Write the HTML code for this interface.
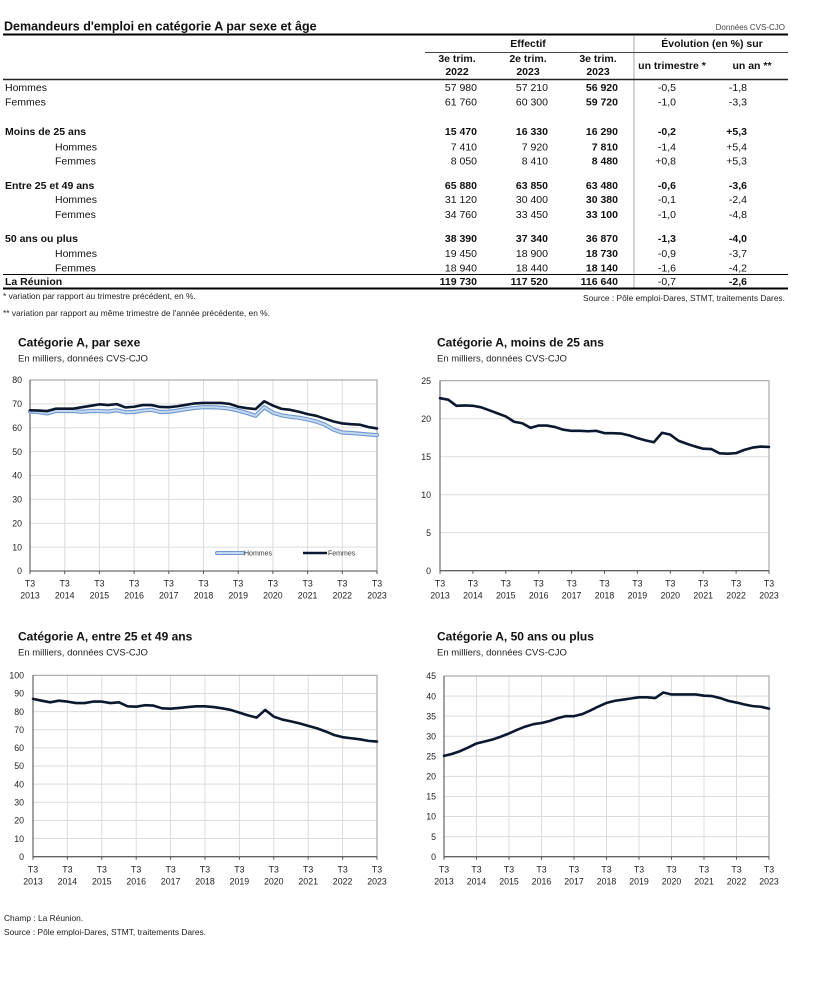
<!DOCTYPE html>
<html><head><meta charset="utf-8"><style>
html,body{margin:0;padding:0;background:#fff;}
svg{display:block;}
text{font-family:"Liberation Sans",Arial,sans-serif;}
.t{font-size:10.5px;fill:#111;}
.b{font-weight:bold;}
.r{text-anchor:end;}
.m{text-anchor:middle;}
.ax{font-size:8.8px;fill:#222;}
.ct{font-size:12px;font-weight:bold;fill:#111;}
.cs{font-size:9.5px;fill:#222;}
.fn{font-size:8.4px;fill:#222;}
.g line{stroke:#dcdcdc;stroke-width:1;vector-effect:non-scaling-stroke;}
.ln{fill:none;stroke-linejoin:round;stroke-linecap:round;vector-effect:non-scaling-stroke;}
</style></head><body>
<svg width="815" height="1000" viewBox="0 0 815 1000" xmlns="http://www.w3.org/2000/svg">
<!-- TABLE -->
<text x="4" y="30.5" font-size="12.5" font-weight="bold" fill="#111">Demandeurs d'emploi en catégorie A par sexe et âge</text>
<text x="785" y="30" font-size="8" fill="#444" text-anchor="end">Données CVS-CJO</text>
<line x1="3" y1="34.5" x2="788" y2="34.5" stroke="#000" stroke-width="2"/>
<line x1="634" y1="36" x2="634" y2="289" stroke="#aaa" stroke-width="1"/>
<text class="t b m" x="528" y="47">Effectif</text>
<text class="t b m" x="712" y="47">Évolution (en %) sur</text>
<line x1="425" y1="52.5" x2="788" y2="52.5" stroke="#444" stroke-width="1"/>
<text class="t b m" x="457" y="62">3e trim.</text><text class="t b m" x="457" y="75">2022</text>
<text class="t b m" x="528" y="62">2e trim.</text><text class="t b m" x="528" y="75">2023</text>
<text class="t b m" x="598" y="62">3e trim.</text><text class="t b m" x="598" y="75">2023</text>
<text class="t b m" x="672" y="69">un trimestre *</text>
<text class="t b m" x="752" y="69">un an **</text>
<line x1="3" y1="79.5" x2="788" y2="79.5" stroke="#222" stroke-width="1.5"/>

<text class="t" x="5" y="91">Hommes</text>
<text class="t r" x="477" y="91">57 980</text><text class="t r" x="548" y="91">57 210</text><text class="t r b" x="618" y="91">56 920</text><text class="t r" x="676" y="91">-0,5</text><text class="t r" x="747" y="91">-1,8</text>
<text class="t" x="5" y="105.5">Femmes</text>
<text class="t r" x="477" y="105.5">61 760</text><text class="t r" x="548" y="105.5">60 300</text><text class="t r b" x="618" y="105.5">59 720</text><text class="t r" x="676" y="105.5">-1,0</text><text class="t r" x="747" y="105.5">-3,3</text>

<text class="t b" x="5" y="135">Moins de 25 ans</text>
<text class="t r b" x="477" y="135">15 470</text><text class="t r b" x="548" y="135">16 330</text><text class="t r b" x="618" y="135">16 290</text><text class="t r b" x="676" y="135">-0,2</text><text class="t r b" x="747" y="135">+5,3</text>
<text class="t" x="55" y="150.5">Hommes</text>
<text class="t r" x="477" y="150.5">7 410</text><text class="t r" x="548" y="150.5">7 920</text><text class="t r b" x="618" y="150.5">7 810</text><text class="t r" x="676" y="150.5">-1,4</text><text class="t r" x="747" y="150.5">+5,4</text>
<text class="t" x="55" y="164.5">Femmes</text>
<text class="t r" x="477" y="164.5">8 050</text><text class="t r" x="548" y="164.5">8 410</text><text class="t r b" x="618" y="164.5">8 480</text><text class="t r" x="676" y="164.5">+0,8</text><text class="t r" x="747" y="164.5">+5,3</text>

<text class="t b" x="5" y="189">Entre 25 et 49 ans</text>
<text class="t r b" x="477" y="189">65 880</text><text class="t r b" x="548" y="189">63 850</text><text class="t r b" x="618" y="189">63 480</text><text class="t r b" x="676" y="189">-0,6</text><text class="t r b" x="747" y="189">-3,6</text>
<text class="t" x="55" y="203">Hommes</text>
<text class="t r" x="477" y="203">31 120</text><text class="t r" x="548" y="203">30 400</text><text class="t r b" x="618" y="203">30 380</text><text class="t r" x="676" y="203">-0,1</text><text class="t r" x="747" y="203">-2,4</text>
<text class="t" x="55" y="218">Femmes</text>
<text class="t r" x="477" y="218">34 760</text><text class="t r" x="548" y="218">33 450</text><text class="t r b" x="618" y="218">33 100</text><text class="t r" x="676" y="218">-1,0</text><text class="t r" x="747" y="218">-4,8</text>

<text class="t b" x="5" y="242">50 ans ou plus</text>
<text class="t r b" x="477" y="242">38 390</text><text class="t r b" x="548" y="242">37 340</text><text class="t r b" x="618" y="242">36 870</text><text class="t r b" x="676" y="242">-1,3</text><text class="t r b" x="747" y="242">-4,0</text>
<text class="t" x="55" y="257">Hommes</text>
<text class="t r" x="477" y="257">19 450</text><text class="t r" x="548" y="257">18 900</text><text class="t r b" x="618" y="257">18 730</text><text class="t r" x="676" y="257">-0,9</text><text class="t r" x="747" y="257">-3,7</text>
<text class="t" x="55" y="271.5">Femmes</text>
<text class="t r" x="477" y="271.5">18 940</text><text class="t r" x="548" y="271.5">18 440</text><text class="t r b" x="618" y="271.5">18 140</text><text class="t r" x="676" y="271.5">-1,6</text><text class="t r" x="747" y="271.5">-4,2</text>
<line x1="3" y1="274.5" x2="788" y2="274.5" stroke="#000" stroke-width="1"/>
<text class="t b" x="5" y="285">La Réunion</text>
<text class="t r b" x="477" y="285">119 730</text><text class="t r b" x="548" y="285">117 520</text><text class="t r b" x="618" y="285">116 640</text><text class="t r" x="676" y="285">-0,7</text><text class="t r b" x="747" y="285">-2,6</text>
<line x1="3" y1="288.5" x2="788" y2="288.5" stroke="#000" stroke-width="2"/>

<text class="fn" x="3" y="299">* variation par rapport au trimestre précédent, en %.</text>
<text class="fn" x="3" y="316">** variation par rapport au même trimestre de l'année précédente, en %.</text>
<text class="fn r" x="785" y="301">Source : Pôle emploi-Dares, STMT, traitements Dares.</text>

<!-- CHART 1 -->
<text class="ct" x="18" y="346.5">Catégorie A, par sexe</text>
<text class="cs" x="18" y="361.5">En milliers, données CVS-CJO</text>
<g class="g" transform="translate(30,571) scale(8.675,-2.3875)">
<line x1="0" y1="10" x2="40" y2="10"/><line x1="0" y1="20" x2="40" y2="20"/><line x1="0" y1="30" x2="40" y2="30"/><line x1="0" y1="40" x2="40" y2="40"/><line x1="0" y1="50" x2="40" y2="50"/><line x1="0" y1="60" x2="40" y2="60"/><line x1="0" y1="70" x2="40" y2="70"/>
<line x1="4" y1="0" x2="4" y2="80"/><line x1="8" y1="0" x2="8" y2="80"/><line x1="12" y1="0" x2="12" y2="80"/><line x1="16" y1="0" x2="16" y2="80"/><line x1="20" y1="0" x2="20" y2="80"/><line x1="24" y1="0" x2="24" y2="80"/><line x1="28" y1="0" x2="28" y2="80"/><line x1="32" y1="0" x2="32" y2="80"/><line x1="36" y1="0" x2="36" y2="80"/>
</g>
<rect x="30" y="380" width="347" height="191" fill="none" stroke="#999" stroke-width="1"/>
<line x1="30" y1="380" x2="30" y2="571" stroke="#444"/><line x1="30" y1="571" x2="377" y2="571" stroke="#444"/>
<g stroke="#555"><line x1="30" y1="571" x2="30" y2="574"/><line x1="64.7" y1="571" x2="64.7" y2="574"/><line x1="99.4" y1="571" x2="99.4" y2="574"/><line x1="134.1" y1="571" x2="134.1" y2="574"/><line x1="168.8" y1="571" x2="168.8" y2="574"/><line x1="203.5" y1="571" x2="203.5" y2="574"/><line x1="238.2" y1="571" x2="238.2" y2="574"/><line x1="272.9" y1="571" x2="272.9" y2="574"/><line x1="307.6" y1="571" x2="307.6" y2="574"/><line x1="342.3" y1="571" x2="342.3" y2="574"/><line x1="377" y1="571" x2="377" y2="574"/></g>
<g class="ax r"><text class="ax r" x="22" y="574.2">0</text><text class="ax r" x="22" y="550.3">10</text><text class="ax r" x="22" y="526.5">20</text><text class="ax r" x="22" y="502.6">30</text><text class="ax r" x="22" y="478.7">40</text><text class="ax r" x="22" y="454.8">50</text><text class="ax r" x="22" y="431">60</text><text class="ax r" x="22" y="407.1">70</text><text class="ax r" x="22" y="383.2">80</text></g>
<g>
<text class="ax m" x="30" y="586.5">T3</text><text class="ax m" x="30" y="598.5">2013</text>
<text class="ax m" x="64.7" y="586.5">T3</text><text class="ax m" x="64.7" y="598.5">2014</text>
<text class="ax m" x="99.4" y="586.5">T3</text><text class="ax m" x="99.4" y="598.5">2015</text>
<text class="ax m" x="134.1" y="586.5">T3</text><text class="ax m" x="134.1" y="598.5">2016</text>
<text class="ax m" x="168.8" y="586.5">T3</text><text class="ax m" x="168.8" y="598.5">2017</text>
<text class="ax m" x="203.5" y="586.5">T3</text><text class="ax m" x="203.5" y="598.5">2018</text>
<text class="ax m" x="238.2" y="586.5">T3</text><text class="ax m" x="238.2" y="598.5">2019</text>
<text class="ax m" x="272.9" y="586.5">T3</text><text class="ax m" x="272.9" y="598.5">2020</text>
<text class="ax m" x="307.6" y="586.5">T3</text><text class="ax m" x="307.6" y="598.5">2021</text>
<text class="ax m" x="342.3" y="586.5">T3</text><text class="ax m" x="342.3" y="598.5">2022</text>
<text class="ax m" x="377" y="586.5">T3</text><text class="ax m" x="377" y="598.5">2023</text>
</g>
<g transform="translate(30,571) scale(8.675,-2.3875)">
<polyline class="ln" stroke="#6f98cf" stroke-width="4.2" points="0,66.8 1,66.6 2,66 3,67 4,67 5,67 6,66.7 7,67 8,67 9,66.8 10,67.3 11,66.5 12,66.6 13,67.2 14,67.5 15,66.6 16,66.7 17,67.2 18,67.8 19,68.3 20,68.6 21,68.6 22,68.4 23,68 24,67.2 25,66.2 26,65 27,68.6 28,66.3 29,65.2 30,64.6 31,64.2 32,63.5 33,62.6 34,61.3 35,59.2 36,58 37,57.8 38,57.5 39,57.2 40,56.9"/>
<polyline class="ln" stroke="#c4d8f0" stroke-width="2" points="0,66.8 1,66.6 2,66 3,67 4,67 5,67 6,66.7 7,67 8,67 9,66.8 10,67.3 11,66.5 12,66.6 13,67.2 14,67.5 15,66.6 16,66.7 17,67.2 18,67.8 19,68.3 20,68.6 21,68.6 22,68.4 23,68 24,67.2 25,66.2 26,65 27,68.6 28,66.3 29,65.2 30,64.6 31,64.2 32,63.5 33,62.6 34,61.3 35,59.2 36,58 37,57.8 38,57.5 39,57.2 40,56.9"/>
<polyline class="ln" stroke="#0c1830" stroke-width="2.6" points="0,67.3 1,67.2 2,67 3,68 4,68 5,68 6,68.6 7,69.2 8,69.8 9,69.5 10,69.9 11,68.5 12,68.8 13,69.5 14,69.5 15,68.7 16,68.6 17,69 18,69.6 19,70.2 20,70.4 21,70.4 22,70.4 23,70 24,68.8 25,68.2 26,67.8 27,71.1 28,69.3 29,67.9 30,67.5 31,66.7 32,65.7 33,65 34,63.8 35,62.6 36,61.8 37,61.5 38,61.3 39,60.3 40,59.7"/>
</g>
<line x1="217" y1="553" x2="243" y2="553" stroke="#6f98cf" stroke-width="4" stroke-linecap="round"/>
<line x1="217" y1="553" x2="243" y2="553" stroke="#c4d8f0" stroke-width="2" stroke-linecap="round"/>
<text x="244" y="555.5" font-size="7" fill="#333">Hommes</text>
<line x1="303" y1="553" x2="327" y2="553" stroke="#0c1830" stroke-width="2.6"/>
<text x="328" y="555.5" font-size="7" fill="#333">Femmes</text>

<!-- CHART 2 -->
<text class="ct" x="437" y="346.5">Catégorie A, moins de 25 ans</text>
<text class="cs" x="437" y="361.5">En milliers, données CVS-CJO</text>
<g class="g" transform="translate(440,570.7) scale(8.225,-7.6)">
<line x1="0" y1="5" x2="40" y2="5"/><line x1="0" y1="10" x2="40" y2="10"/><line x1="0" y1="15" x2="40" y2="15"/><line x1="0" y1="20" x2="40" y2="20"/>
</g>
<rect x="440" y="380.7" width="329" height="190" fill="none" stroke="#999" stroke-width="1"/>
<line x1="440" y1="380.7" x2="440" y2="570.7" stroke="#555"/><line x1="440" y1="570.7" x2="769" y2="570.7" stroke="#444"/>
<g stroke="#555"><line x1="440" y1="570.7" x2="440" y2="573.7"/><line x1="472.9" y1="570.7" x2="472.9" y2="573.7"/><line x1="505.8" y1="570.7" x2="505.8" y2="573.7"/><line x1="538.7" y1="570.7" x2="538.7" y2="573.7"/><line x1="571.6" y1="570.7" x2="571.6" y2="573.7"/><line x1="604.5" y1="570.7" x2="604.5" y2="573.7"/><line x1="637.4" y1="570.7" x2="637.4" y2="573.7"/><line x1="670.3" y1="570.7" x2="670.3" y2="573.7"/><line x1="703.2" y1="570.7" x2="703.2" y2="573.7"/><line x1="736.1" y1="570.7" x2="736.1" y2="573.7"/><line x1="769" y1="570.7" x2="769" y2="573.7"/></g>
<text class="ax r" x="431" y="573.9">0</text><text class="ax r" x="431" y="535.9">5</text><text class="ax r" x="431" y="497.9">10</text><text class="ax r" x="431" y="459.9">15</text><text class="ax r" x="431" y="421.9">20</text><text class="ax r" x="431" y="383.9">25</text>
<text class="ax m" x="440" y="586.5">T3</text><text class="ax m" x="440" y="598.5">2013</text>
<text class="ax m" x="472.9" y="586.5">T3</text><text class="ax m" x="472.9" y="598.5">2014</text>
<text class="ax m" x="505.8" y="586.5">T3</text><text class="ax m" x="505.8" y="598.5">2015</text>
<text class="ax m" x="538.7" y="586.5">T3</text><text class="ax m" x="538.7" y="598.5">2016</text>
<text class="ax m" x="571.6" y="586.5">T3</text><text class="ax m" x="571.6" y="598.5">2017</text>
<text class="ax m" x="604.5" y="586.5">T3</text><text class="ax m" x="604.5" y="598.5">2018</text>
<text class="ax m" x="637.4" y="586.5">T3</text><text class="ax m" x="637.4" y="598.5">2019</text>
<text class="ax m" x="670.3" y="586.5">T3</text><text class="ax m" x="670.3" y="598.5">2020</text>
<text class="ax m" x="703.2" y="586.5">T3</text><text class="ax m" x="703.2" y="598.5">2021</text>
<text class="ax m" x="736.1" y="586.5">T3</text><text class="ax m" x="736.1" y="598.5">2022</text>
<text class="ax m" x="769" y="586.5">T3</text><text class="ax m" x="769" y="598.5">2023</text>
<g transform="translate(440,570.7) scale(8.225,-7.6)">
<polyline class="ln" stroke="#0c1830" stroke-width="2.6" points="0,22.7 1,22.5 2,21.7 3,21.75 4,21.7 5,21.5 6,21.1 7,20.7 8,20.3 9,19.6 10,19.4 11,18.8 12,19.1 13,19.1 14,18.9 15,18.55 16,18.4 17,18.4 18,18.35 19,18.4 20,18.1 21,18.1 22,18.05 23,17.8 24,17.45 25,17.15 26,16.9 27,18.15 28,17.9 29,17.1 30,16.7 31,16.35 32,16.05 33,16 34,15.45 35,15.4 36,15.47 37,15.9 38,16.2 39,16.33 40,16.29"/>
</g>

<!-- CHART 3 -->
<text class="ct" x="18" y="640.5">Catégorie A, entre 25 et 49 ans</text>
<text class="cs" x="18" y="655.5">En milliers, données CVS-CJO</text>
<g class="g" transform="translate(33,856.7) scale(8.6,-1.814)">
<line x1="0" y1="10" x2="40" y2="10"/><line x1="0" y1="20" x2="40" y2="20"/><line x1="0" y1="30" x2="40" y2="30"/><line x1="0" y1="40" x2="40" y2="40"/><line x1="0" y1="50" x2="40" y2="50"/><line x1="0" y1="60" x2="40" y2="60"/><line x1="0" y1="70" x2="40" y2="70"/><line x1="0" y1="80" x2="40" y2="80"/><line x1="0" y1="90" x2="40" y2="90"/>
<line x1="4" y1="0" x2="4" y2="100"/><line x1="8" y1="0" x2="8" y2="100"/><line x1="12" y1="0" x2="12" y2="100"/><line x1="16" y1="0" x2="16" y2="100"/><line x1="20" y1="0" x2="20" y2="100"/><line x1="24" y1="0" x2="24" y2="100"/><line x1="28" y1="0" x2="28" y2="100"/><line x1="32" y1="0" x2="32" y2="100"/><line x1="36" y1="0" x2="36" y2="100"/>
</g>
<rect x="33" y="675.3" width="344" height="181.4" fill="none" stroke="#999" stroke-width="1"/>
<line x1="33" y1="675.3" x2="33" y2="856.7" stroke="#444"/><line x1="33" y1="856.7" x2="377" y2="856.7" stroke="#444"/>
<g stroke="#555"><line x1="33" y1="856.7" x2="33" y2="859.7"/><line x1="67.4" y1="856.7" x2="67.4" y2="859.7"/><line x1="101.8" y1="856.7" x2="101.8" y2="859.7"/><line x1="136.2" y1="856.7" x2="136.2" y2="859.7"/><line x1="170.6" y1="856.7" x2="170.6" y2="859.7"/><line x1="205" y1="856.7" x2="205" y2="859.7"/><line x1="239.4" y1="856.7" x2="239.4" y2="859.7"/><line x1="273.8" y1="856.7" x2="273.8" y2="859.7"/><line x1="308.2" y1="856.7" x2="308.2" y2="859.7"/><line x1="342.6" y1="856.7" x2="342.6" y2="859.7"/><line x1="377" y1="856.7" x2="377" y2="859.7"/></g>
<text class="ax r" x="24" y="859.9">0</text><text class="ax r" x="24" y="841.8">10</text><text class="ax r" x="24" y="823.6">20</text><text class="ax r" x="24" y="805.5">30</text><text class="ax r" x="24" y="787.3">40</text><text class="ax r" x="24" y="769.2">50</text><text class="ax r" x="24" y="751.1">60</text><text class="ax r" x="24" y="732.9">70</text><text class="ax r" x="24" y="714.8">80</text><text class="ax r" x="24" y="696.6">90</text><text class="ax r" x="24" y="678.5">100</text>
<text class="ax m" x="33" y="872.5">T3</text><text class="ax m" x="33" y="884.5">2013</text>
<text class="ax m" x="67.4" y="872.5">T3</text><text class="ax m" x="67.4" y="884.5">2014</text>
<text class="ax m" x="101.8" y="872.5">T3</text><text class="ax m" x="101.8" y="884.5">2015</text>
<text class="ax m" x="136.2" y="872.5">T3</text><text class="ax m" x="136.2" y="884.5">2016</text>
<text class="ax m" x="170.6" y="872.5">T3</text><text class="ax m" x="170.6" y="884.5">2017</text>
<text class="ax m" x="205" y="872.5">T3</text><text class="ax m" x="205" y="884.5">2018</text>
<text class="ax m" x="239.4" y="872.5">T3</text><text class="ax m" x="239.4" y="884.5">2019</text>
<text class="ax m" x="273.8" y="872.5">T3</text><text class="ax m" x="273.8" y="884.5">2020</text>
<text class="ax m" x="308.2" y="872.5">T3</text><text class="ax m" x="308.2" y="884.5">2021</text>
<text class="ax m" x="342.6" y="872.5">T3</text><text class="ax m" x="342.6" y="884.5">2022</text>
<text class="ax m" x="377" y="872.5">T3</text><text class="ax m" x="377" y="884.5">2023</text>
<g transform="translate(33,856.7) scale(8.6,-1.814)">
<polyline class="ln" stroke="#0c1830" stroke-width="2.6" points="0,87 1,86 2,85.1 3,86 4,85.5 5,84.7 6,84.7 7,85.5 8,85.5 9,84.7 10,85.1 11,82.9 12,82.7 13,83.5 14,83.3 15,81.8 16,81.6 17,82 18,82.5 19,82.9 20,82.9 21,82.5 22,81.8 23,80.9 24,79.4 25,77.9 26,76.7 27,80.9 28,77.2 29,75.6 30,74.6 31,73.5 32,72.1 33,70.8 34,69.1 35,67.1 36,65.9 37,65.3 38,64.7 39,63.85 40,63.48"/>
</g>

<!-- CHART 4 -->
<text class="ct" x="437" y="640.5">Catégorie A, 50 ans ou plus</text>
<text class="cs" x="437" y="655.5">En milliers, données CVS-CJO</text>
<g class="g" transform="translate(444,856.7) scale(8.125,-4.0156)">
<line x1="0" y1="5" x2="40" y2="5"/><line x1="0" y1="10" x2="40" y2="10"/><line x1="0" y1="15" x2="40" y2="15"/><line x1="0" y1="20" x2="40" y2="20"/><line x1="0" y1="25" x2="40" y2="25"/><line x1="0" y1="30" x2="40" y2="30"/><line x1="0" y1="35" x2="40" y2="35"/><line x1="0" y1="40" x2="40" y2="40"/>
<line x1="4" y1="0" x2="4" y2="45"/><line x1="8" y1="0" x2="8" y2="45"/><line x1="12" y1="0" x2="12" y2="45"/><line x1="16" y1="0" x2="16" y2="45"/><line x1="20" y1="0" x2="20" y2="45"/><line x1="24" y1="0" x2="24" y2="45"/><line x1="28" y1="0" x2="28" y2="45"/><line x1="32" y1="0" x2="32" y2="45"/><line x1="36" y1="0" x2="36" y2="45"/>
</g>
<rect x="444" y="676" width="325" height="180.7" fill="none" stroke="#999" stroke-width="1"/>
<line x1="444" y1="676" x2="444" y2="856.7" stroke="#444"/><line x1="444" y1="856.7" x2="769" y2="856.7" stroke="#444"/>
<g stroke="#555"><line x1="444" y1="856.7" x2="444" y2="859.7"/><line x1="476.5" y1="856.7" x2="476.5" y2="859.7"/><line x1="509" y1="856.7" x2="509" y2="859.7"/><line x1="541.5" y1="856.7" x2="541.5" y2="859.7"/><line x1="574" y1="856.7" x2="574" y2="859.7"/><line x1="606.5" y1="856.7" x2="606.5" y2="859.7"/><line x1="639" y1="856.7" x2="639" y2="859.7"/><line x1="671.5" y1="856.7" x2="671.5" y2="859.7"/><line x1="704" y1="856.7" x2="704" y2="859.7"/><line x1="736.5" y1="856.7" x2="736.5" y2="859.7"/><line x1="769" y1="856.7" x2="769" y2="859.7"/></g>
<text class="ax r" x="436" y="859.9">0</text><text class="ax r" x="436" y="839.8">5</text><text class="ax r" x="436" y="819.7">10</text><text class="ax r" x="436" y="799.7">15</text><text class="ax r" x="436" y="779.6">20</text><text class="ax r" x="436" y="759.5">25</text><text class="ax r" x="436" y="739.4">30</text><text class="ax r" x="436" y="719.4">35</text><text class="ax r" x="436" y="699.3">40</text><text class="ax r" x="436" y="679.2">45</text>
<text class="ax m" x="444" y="872.5">T3</text><text class="ax m" x="444" y="884.5">2013</text>
<text class="ax m" x="476.5" y="872.5">T3</text><text class="ax m" x="476.5" y="884.5">2014</text>
<text class="ax m" x="509" y="872.5">T3</text><text class="ax m" x="509" y="884.5">2015</text>
<text class="ax m" x="541.5" y="872.5">T3</text><text class="ax m" x="541.5" y="884.5">2016</text>
<text class="ax m" x="574" y="872.5">T3</text><text class="ax m" x="574" y="884.5">2017</text>
<text class="ax m" x="606.5" y="872.5">T3</text><text class="ax m" x="606.5" y="884.5">2018</text>
<text class="ax m" x="639" y="872.5">T3</text><text class="ax m" x="639" y="884.5">2019</text>
<text class="ax m" x="671.5" y="872.5">T3</text><text class="ax m" x="671.5" y="884.5">2020</text>
<text class="ax m" x="704" y="872.5">T3</text><text class="ax m" x="704" y="884.5">2021</text>
<text class="ax m" x="736.5" y="872.5">T3</text><text class="ax m" x="736.5" y="884.5">2022</text>
<text class="ax m" x="769" y="872.5">T3</text><text class="ax m" x="769" y="884.5">2023</text>
<g transform="translate(444,856.7) scale(8.125,-4.0156)">
<polyline class="ln" stroke="#0c1830" stroke-width="2.6" points="0,25.1 1,25.6 2,26.3 3,27.2 4,28.2 5,28.7 6,29.2 7,29.9 8,30.7 9,31.6 10,32.4 11,33 12,33.3 13,33.8 14,34.5 15,35 16,35 17,35.5 18,36.4 19,37.4 20,38.3 21,38.8 22,39.1 23,39.4 24,39.7 25,39.7 26,39.5 27,40.9 28,40.4 29,40.4 30,40.4 31,40.4 32,40.1 33,40 34,39.5 35,38.8 36,38.39 37,37.9 38,37.5 39,37.34 40,36.87"/>
</g>

<!-- FOOTER -->
<text class="fn" x="4" y="921">Champ : La Réunion.</text>
<text class="fn" x="4" y="935">Source : Pôle emploi-Dares, STMT, traitements Dares.</text>
</svg>
</body></html>
